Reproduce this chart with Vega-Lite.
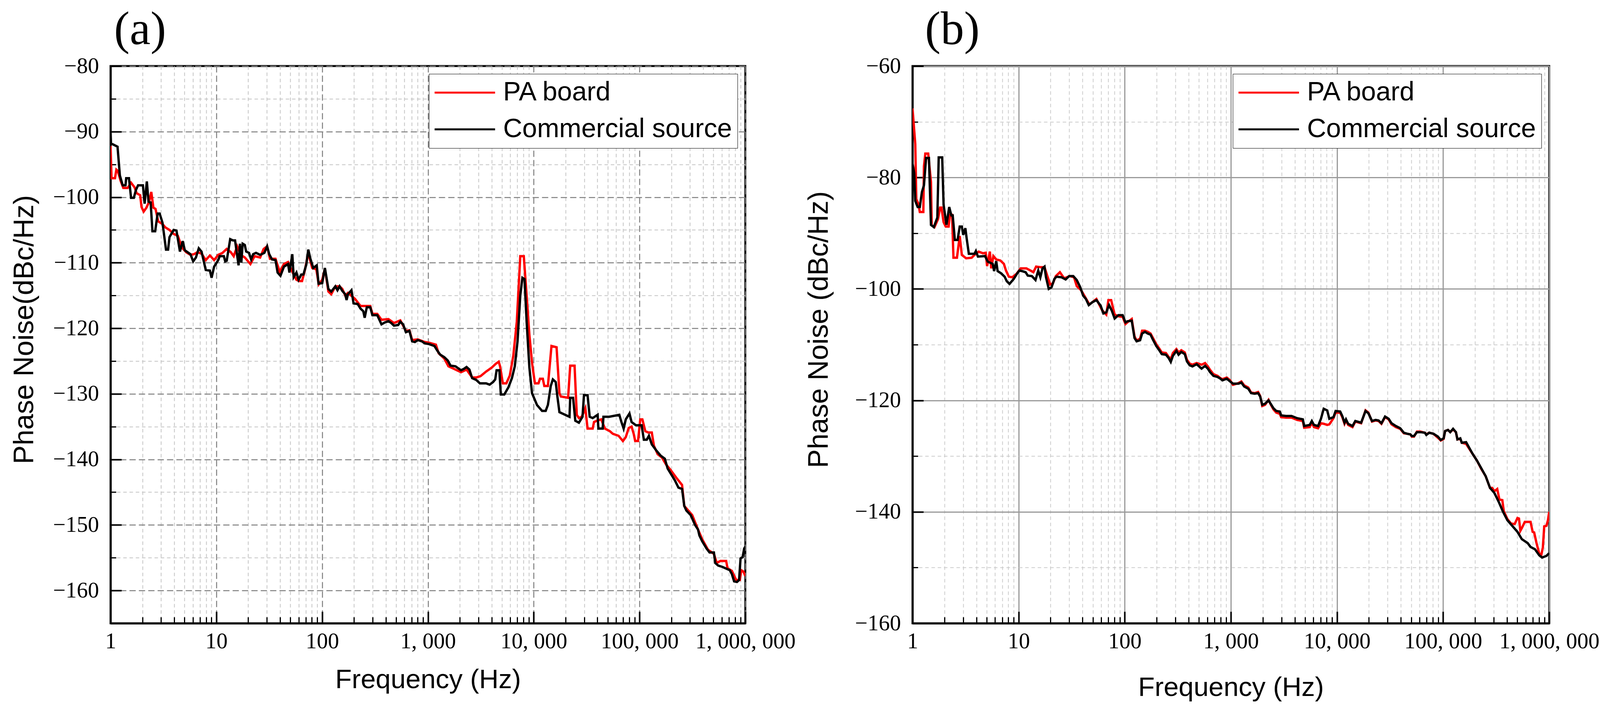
{
  "$schema": "https://vega.github.io/schema/vega-lite/v6.json",
  "background": "white",
  "padding": {"left": 23, "top": 14, "right": 6, "bottom": 6},
  "config": {
    "view": {"stroke": "black", "strokeWidth": 5},
    "axis": {"domainColor": "black", "domainWidth": 5, "tickColor": "black", "labelColor": "black", "titleColor": "black", "titleFontWeight": "normal", "titleFont": "Liberation Sans", "titleFontSize": 72, "labelFont": "Liberation Serif", "labelFontSize": 57, "labelLimit": 1000},
    "legend": {"orient": "top-right", "offset": 20, "strokeColor": "black", "fillColor": "white", "padding": 14, "labelFont": "Liberation Sans", "labelFontSize": 68, "labelColor": "black", "symbolType": "M-2.58,0H2.58", "symbolSize": 3600, "symbolStrokeWidth": 5, "labelOffset": 64, "symbolOffset": 44, "rowPadding": 26, "labelLimit": 2000, "title": null},
    "title": {"font": "Liberation Serif", "fontSize": 120, "fontWeight": "normal", "color": "black", "anchor": "start", "frame": "group"}
  },
  "datasets": {
    "a_pa": [
      {"f":1,"v":-92.2},{"f":1.021,"v":-97.1},{"f":1.102,"v":-97.1},{"f":1.135,"v":-95.8},{"f":1.172,"v":-96.0},{"f":1.245,"v":-97.5},{"f":1.321,"v":-98.6},{"f":1.449,"v":-98.6},{"f":1.563,"v":-97.8},{"f":1.687,"v":-98.5},{"f":1.766,"v":-99.4},{"f":1.905,"v":-99.7},{"f":1.963,"v":-101.5},{"f":2.056,"v":-102.2},{"f":2.183,"v":-101.6},{"f":2.317,"v":-100.7},{"f":2.427,"v":-99.2},{"f":2.541,"v":-101.6},{"f":2.661,"v":-101.8},{"f":2.825,"v":-103.7},{"f":3.097,"v":-104.1},{"f":3.289,"v":-104.6},{"f":3.606,"v":-105.0},{"f":3.945,"v":-105.6},{"f":4.325,"v":-105.9},{"f":4.732,"v":-107.7},{"f":5.188,"v":-108.4},{"f":5.689,"v":-108.8},{"f":6.138,"v":-108.7},{"f":6.607,"v":-108.4},{"f":7.244,"v":-108.6},{"f":7.943,"v":-109.6},{"f":8.69,"v":-108.9},{"f":9.528,"v":-109.6},{"f":10.42,"v":-108.8},{"f":11.43,"v":-108.5},{"f":12.53,"v":-107.9},{"f":13.71,"v":-108.4},{"f":14.59,"v":-109.0},{"f":15.74,"v":-107.5},{"f":16.98,"v":-108.8},{"f":18.58,"v":-109.2},{"f":20.99,"v":-110.2},{"f":22.96,"v":-109.0},{"f":25.94,"v":-109.2},{"f":27.99,"v":-107.9},{"f":30.2,"v":-107.5},{"f":32.14,"v":-109.4},{"f":36.22,"v":-109.4},{"f":39.72,"v":-111.4},{"f":43.55,"v":-110.2},{"f":47.64,"v":-109.9},{"f":52.24,"v":-111.4},{"f":57.15,"v":-112.6},{"f":60.81,"v":-112.8},{"f":64.57,"v":-112.8},{"f":68.55,"v":-111.2},{"f":73.96,"v":-108.5},{"f":80.54,"v":-110.8},{"f":88.1,"v":-111.0},{"f":92.9,"v":-113.3},{"f":100.2,"v":-112.6},{"f":106.2,"v":-110.9},{"f":114.6,"v":-114.4},{"f":121.9,"v":-114.8},{"f":133.4,"v":-113.6},{"f":146.2,"v":-113.6},{"f":155.2,"v":-114.0},{"f":165.2,"v":-115.0},{"f":175.4,"v":-114.6},{"f":204.2,"v":-115.5},{"f":230.7,"v":-116.6},{"f":285.1,"v":-116.6},{"f":298.5,"v":-117.8},{"f":331.9,"v":-117.8},{"f":363.9,"v":-118.7},{"f":423.6,"v":-118.6},{"f":477.5,"v":-119.2},{"f":548.3,"v":-118.8},{"f":619.4,"v":-120.4},{"f":668.3,"v":-120.3},{"f":709.6,"v":-121.8},{"f":801.7,"v":-121.7},{"f":933.3,"v":-122.1},{"f":1021,"v":-122.2},{"f":1189,"v":-122.5},{"f":1262,"v":-123.8},{"f":1426,"v":-124.6},{"f":1563,"v":-125.8},{"f":1714,"v":-126.1},{"f":1932,"v":-126.5},{"f":2056,"v":-126.7},{"f":2317,"v":-126.3},{"f":2618,"v":-127.5},{"f":2871,"v":-127.5},{"f":3141,"v":-127.3},{"f":3548,"v":-126.6},{"f":4009,"v":-126.0},{"f":4395,"v":-125.4},{"f":4667,"v":-125.1},{"f":4808,"v":-125.8},{"f":5105,"v":-128.4},{"f":5508,"v":-128.4},{"f":5943,"v":-127.2},{"f":6412,"v":-124.2},{"f":6918,"v":-119.0},{"f":7464,"v":-109.0},{"f":8054,"v":-109.0},{"f":8570,"v":-115.0},{"f":9099,"v":-121.0},{"f":9661,"v":-125.4},{"f":10260,"v":-128.4},{"f":11090,"v":-128.4},{"f":11460,"v":-127.7},{"f":12190,"v":-127.7},{"f":12590,"v":-128.8},{"f":13610,"v":-128.8},{"f":14720,"v":-122.7},{"f":16440,"v":-122.9},{"f":17500,"v":-129.9},{"f":18030,"v":-130.4},{"f":21130,"v":-130.6},{"f":22130,"v":-125.7},{"f":24320,"v":-125.7},{"f":25530,"v":-133.2},{"f":26730,"v":-133.7},{"f":28440,"v":-133.5},{"f":30760,"v":-132.2},{"f":32280,"v":-135.3},{"f":36060,"v":-135.3},{"f":37150,"v":-134.3},{"f":39630,"v":-134.1},{"f":43450,"v":-133.9},{"f":47100,"v":-135.3},{"f":52480,"v":-135.7},{"f":55980,"v":-136.1},{"f":63390,"v":-136.4},{"f":69660,"v":-137.2},{"f":74130,"v":-136.6},{"f":79070,"v":-135.2},{"f":84140,"v":-135.0},{"f":88100,"v":-136.1},{"f":91000,"v":-137.2},{"f":96830,"v":-137.2},{"f":101600,"v":-133.9},{"f":106400,"v":-133.9},{"f":113500,"v":-135.7},{"f":120800,"v":-135.9},{"f":130600,"v":-135.9},{"f":136800,"v":-137.9},{"f":148300,"v":-139.2},{"f":162600,"v":-139.7},{"f":178600,"v":-140.8},{"f":196300,"v":-141.6},{"f":222800,"v":-142.8},{"f":252400,"v":-143.9},{"f":264800,"v":-147.1},{"f":314800,"v":-148.5},{"f":357300,"v":-150.7},{"f":391700,"v":-152.2},{"f":444600,"v":-153.8},{"f":504700,"v":-154.4},{"f":537000,"v":-155.8},{"f":580800,"v":-155.5},{"f":659200,"v":-155.5},{"f":679200,"v":-156.6},{"f":746400,"v":-157.0},{"f":820400,"v":-158.4},{"f":887200,"v":-158.4},{"f":916200,"v":-156.9},{"f":959400,"v":-157.1},{"f":1000000,"v":-157.8}
    ],
    "a_cs": [
      {"f":1,"v":-90.0},{"f":1.01,"v":-91.8},{"f":1.164,"v":-92.3},{"f":1.225,"v":-96.7},{"f":1.303,"v":-98.2},{"f":1.384,"v":-98.2},{"f":1.406,"v":-97.1},{"f":1.493,"v":-97.1},{"f":1.563,"v":-100.1},{"f":1.66,"v":-100.1},{"f":1.738,"v":-98.9},{"f":1.82,"v":-98.2},{"f":2.023,"v":-98.2},{"f":2.099,"v":-101.0},{"f":2.203,"v":-97.6},{"f":2.286,"v":-100.7},{"f":2.393,"v":-100.8},{"f":2.489,"v":-105.2},{"f":2.642,"v":-105.2},{"f":2.786,"v":-102.5},{"f":2.911,"v":-102.5},{"f":3.097,"v":-103.9},{"f":3.342,"v":-108.0},{"f":3.499,"v":-108.0},{"f":3.606,"v":-106.1},{"f":3.945,"v":-105.0},{"f":4.198,"v":-105.1},{"f":4.529,"v":-108.3},{"f":4.808,"v":-106.7},{"f":5.035,"v":-108.1},{"f":5.689,"v":-108.7},{"f":6.039,"v":-109.8},{"f":6.412,"v":-109.2},{"f":6.823,"v":-107.8},{"f":7.244,"v":-108.3},{"f":7.943,"v":-111.1},{"f":8.69,"v":-111.2},{"f":9.016,"v":-112.3},{"f":9.528,"v":-110.6},{"f":10.42,"v":-109.6},{"f":10.76,"v":-109.0},{"f":11.78,"v":-109.0},{"f":12.13,"v":-109.8},{"f":12.53,"v":-109.7},{"f":13.52,"v":-106.4},{"f":14.35,"v":-106.6},{"f":15.03,"v":-106.6},{"f":16.22,"v":-110.4},{"f":16.71,"v":-107.1},{"f":17.22,"v":-110.0},{"f":17.74,"v":-107.1},{"f":18.58,"v":-107.3},{"f":19.14,"v":-108.3},{"f":20.37,"v":-108.5},{"f":21.33,"v":-109.5},{"f":22.28,"v":-108.7},{"f":23.71,"v":-108.5},{"f":25.94,"v":-108.8},{"f":28.44,"v":-108.5},{"f":30.2,"v":-107.5},{"f":31.62,"v":-108.7},{"f":33.57,"v":-109.5},{"f":36.22,"v":-109.6},{"f":37.93,"v":-111.5},{"f":40.36,"v":-112.0},{"f":43.55,"v":-110.6},{"f":47.64,"v":-110.2},{"f":49.09,"v":-111.5},{"f":52.24,"v":-108.7},{"f":53.83,"v":-112.2},{"f":57.15,"v":-111.5},{"f":59.84,"v":-112.6},{"f":63.53,"v":-111.8},{"f":66.53,"v":-111.8},{"f":70.79,"v":-110.3},{"f":73.96,"v":-108.0},{"f":77.45,"v":-109.4},{"f":82.41,"v":-110.8},{"f":88.92,"v":-110.4},{"f":92.47,"v":-113.2},{"f":100.2,"v":-113.1},{"f":106.2,"v":-110.8},{"f":114.6,"v":-114.0},{"f":121.9,"v":-114.4},{"f":133.4,"v":-113.6},{"f":139.6,"v":-114.2},{"f":146.2,"v":-113.6},{"f":155.2,"v":-114.3},{"f":165.2,"v":-114.8},{"f":170.2,"v":-115.7},{"f":175.4,"v":-114.8},{"f":189.2,"v":-114.2},{"f":198.2,"v":-116.2},{"f":216.8,"v":-116.3},{"f":230.7,"v":-117.0},{"f":244.9,"v":-117.4},{"f":252.4,"v":-118.4},{"f":264.2,"v":-116.8},{"f":285.1,"v":-116.8},{"f":298.5,"v":-118.0},{"f":331.9,"v":-118.0},{"f":363.9,"v":-119.4},{"f":392.6,"v":-119.1},{"f":423.6,"v":-118.9},{"f":449.8,"v":-119.2},{"f":477.5,"v":-119.6},{"f":523.6,"v":-119.5},{"f":548.3,"v":-119.0},{"f":582.1,"v":-119.4},{"f":619.4,"v":-120.6},{"f":668.3,"v":-120.4},{"f":709.6,"v":-122.0},{"f":753.4,"v":-122.1},{"f":801.7,"v":-121.8},{"f":879,"v":-122.0},{"f":933.3,"v":-122.3},{"f":1021,"v":-122.4},{"f":1153,"v":-122.7},{"f":1225,"v":-123.4},{"f":1303,"v":-124.0},{"f":1426,"v":-124.4},{"f":1538,"v":-124.9},{"f":1637,"v":-125.7},{"f":1820,"v":-125.8},{"f":1932,"v":-126.1},{"f":2056,"v":-126.4},{"f":2183,"v":-126.2},{"f":2317,"v":-125.9},{"f":2466,"v":-126.3},{"f":2618,"v":-127.6},{"f":2871,"v":-127.9},{"f":3097,"v":-128.4},{"f":3548,"v":-128.4},{"f":3828,"v":-128.6},{"f":4130,"v":-128.2},{"f":4325,"v":-127.8},{"f":4457,"v":-126.4},{"f":4732,"v":-126.4},{"f":4887,"v":-130.1},{"f":5272,"v":-130.1},{"f":5768,"v":-129.0},{"f":6223,"v":-127.6},{"f":6622,"v":-125.8},{"f":7031,"v":-122.0},{"f":7464,"v":-115.0},{"f":7816,"v":-112.3},{"f":8185,"v":-112.5},{"f":8570,"v":-119.0},{"f":9099,"v":-126.0},{"f":9638,"v":-129.9},{"f":10740,"v":-131.7},{"f":11990,"v":-132.6},{"f":12970,"v":-132.6},{"f":13610,"v":-131.7},{"f":14490,"v":-128.8},{"f":15170,"v":-127.8},{"f":16140,"v":-128.2},{"f":16670,"v":-130.2},{"f":17500,"v":-132.8},{"f":20460,"v":-133.3},{"f":21780,"v":-133.5},{"f":22130,"v":-130.6},{"f":23550,"v":-130.6},{"f":24720,"v":-134.1},{"f":26730,"v":-134.4},{"f":28910,"v":-133.5},{"f":29850,"v":-130.2},{"f":32280,"v":-130.2},{"f":33810,"v":-133.5},{"f":36060,"v":-133.7},{"f":40180,"v":-133.2},{"f":40830,"v":-135.3},{"f":44870,"v":-135.3},{"f":45600,"v":-133.5},{"f":51760,"v":-133.5},{"f":64420,"v":-133.2},{"f":67450,"v":-134.3},{"f":70790,"v":-135.3},{"f":74130,"v":-133.9},{"f":80350,"v":-133.0},{"f":84140,"v":-134.3},{"f":92470,"v":-134.8},{"f":104700,"v":-134.8},{"f":109900,"v":-137.0},{"f":117000,"v":-137.0},{"f":122700,"v":-136.4},{"f":130600,"v":-137.7},{"f":143500,"v":-138.6},{"f":157800,"v":-139.4},{"f":173400,"v":-139.9},{"f":184500,"v":-141.4},{"f":196300,"v":-142.1},{"f":215800,"v":-143.2},{"f":233300,"v":-144.3},{"f":252400,"v":-144.5},{"f":264800,"v":-147.1},{"f":277300,"v":-147.8},{"f":304800,"v":-148.5},{"f":335000,"v":-150.0},{"f":357300,"v":-150.7},{"f":368100,"v":-151.6},{"f":391700,"v":-152.5},{"f":430500,"v":-153.6},{"f":459200,"v":-154.2},{"f":504700,"v":-154.2},{"f":520000,"v":-155.8},{"f":554600,"v":-156.2},{"f":608100,"v":-156.4},{"f":668300,"v":-156.7},{"f":712900,"v":-156.9},{"f":746400,"v":-157.5},{"f":783400,"v":-158.6},{"f":833700,"v":-158.7},{"f":873000,"v":-158.4},{"f":901600,"v":-155.1},{"f":944100,"v":-154.9},{"f":975000,"v":-153.6},{"f":1000000,"v":-153.3}
    ],
    "b_pa": [
      {"f":1,"v":-67.6},{"f":1.062,"v":-74.0},{"f":1.086,"v":-83.9},{"f":1.135,"v":-84.7},{"f":1.172,"v":-86.2},{"f":1.265,"v":-86.2},{"f":1.282,"v":-78.0},{"f":1.321,"v":-75.7},{"f":1.406,"v":-75.7},{"f":1.493,"v":-80.8},{"f":1.517,"v":-88.6},{"f":1.611,"v":-88.9},{"f":1.738,"v":-87.5},{"f":1.82,"v":-85.4},{"f":1.875,"v":-85.4},{"f":1.963,"v":-88.0},{"f":2.056,"v":-88.8},{"f":2.188,"v":-88.8},{"f":2.254,"v":-86.7},{"f":2.36,"v":-86.7},{"f":2.432,"v":-94.4},{"f":2.624,"v":-94.4},{"f":2.786,"v":-90.5},{"f":2.917,"v":-93.9},{"f":3.199,"v":-94.5},{"f":3.606,"v":-94.4},{"f":3.837,"v":-93.9},{"f":4.207,"v":-93.3},{"f":4.603,"v":-93.6},{"f":4.898,"v":-93.5},{"f":5.047,"v":-95.9},{"f":5.358,"v":-93.3},{"f":5.521,"v":-96.3},{"f":5.781,"v":-94.1},{"f":6.152,"v":-94.7},{"f":6.73,"v":-94.9},{"f":7.261,"v":-95.5},{"f":7.603,"v":-96.7},{"f":8.091,"v":-97.8},{"f":8.73,"v":-97.9},{"f":9.55,"v":-97.3},{"f":10.47,"v":-96.3},{"f":11.83,"v":-96.3},{"f":12.94,"v":-96.7},{"f":13.77,"v":-97.0},{"f":14.62,"v":-96.0},{"f":16.03,"v":-96.1},{"f":17.54,"v":-96.1},{"f":18.66,"v":-97.7},{"f":19.82,"v":-99.2},{"f":21.04,"v":-99.0},{"f":22.39,"v":-97.7},{"f":24.49,"v":-97.0},{"f":26.85,"v":-98.1},{"f":30.34,"v":-97.7},{"f":33.27,"v":-97.9},{"f":35.32,"v":-99.5},{"f":38.73,"v":-100.2},{"f":42.46,"v":-101.5},{"f":46.45,"v":-102.8},{"f":54.08,"v":-101.8},{"f":61.09,"v":-103.8},{"f":66.99,"v":-104.6},{"f":70.15,"v":-102.0},{"f":74.47,"v":-102.0},{"f":80.35,"v":-104.6},{"f":87.1,"v":-104.9},{"f":95.5,"v":-105.0},{"f":101.6,"v":-106.3},{"f":107.2,"v":-105.9},{"f":116.4,"v":-105.4},{"f":123.6,"v":-108.5},{"f":129.4,"v":-109.3},{"f":139.6,"v":-108.9},{"f":145.9,"v":-107.5},{"f":155.2,"v":-107.5},{"f":164.8,"v":-107.7},{"f":175,"v":-108.0},{"f":183.2,"v":-108.7},{"f":197.7,"v":-109.9},{"f":209.9,"v":-110.6},{"f":223.4,"v":-111.4},{"f":244.3,"v":-111.5},{"f":259.4,"v":-112.2},{"f":271.6,"v":-112.6},{"f":284.4,"v":-111.5},{"f":306.9,"v":-110.8},{"f":321.4,"v":-111.4},{"f":341.2,"v":-111.0},{"f":368.1,"v":-111.4},{"f":385.5,"v":-112.7},{"f":409.3,"v":-113.4},{"f":434.5,"v":-113.6},{"f":476.4,"v":-113.3},{"f":529.7,"v":-113.6},{"f":571.5,"v":-113.3},{"f":606.7,"v":-113.9},{"f":635.3,"v":-114.5},{"f":685.5,"v":-115.3},{"f":749.9,"v":-115.6},{"f":796.2,"v":-116.0},{"f":833.7,"v":-116.2},{"f":914.1,"v":-115.9},{"f":984,"v":-116.4},{"f":1047,"v":-117.2},{"f":1180,"v":-116.9},{"f":1256,"v":-116.6},{"f":1334,"v":-117.3},{"f":1459,"v":-117.7},{"f":1552,"v":-118.6},{"f":1675,"v":-118.7},{"f":1807,"v":-118.5},{"f":1888,"v":-119.2},{"f":1977,"v":-121.0},{"f":2099,"v":-120.8},{"f":2265,"v":-119.9},{"f":2371,"v":-120.7},{"f":2518,"v":-121.6},{"f":2679,"v":-122.2},{"f":2891,"v":-122.4},{"f":2979,"v":-123.0},{"f":3311,"v":-123.1},{"f":3733,"v":-123.1},{"f":4217,"v":-123.5},{"f":4764,"v":-123.7},{"f":4909,"v":-124.9},{"f":5534,"v":-124.8},{"f":5794,"v":-124.0},{"f":6067,"v":-124.8},{"f":6637,"v":-125.0},{"f":7063,"v":-124.1},{"f":7499,"v":-124.2},{"f":8091,"v":-124.4},{"f":8472,"v":-124.3},{"f":9268,"v":-123.2},{"f":9705,"v":-122.2},{"f":10720,"v":-122.2},{"f":11220,"v":-123.0},{"f":11780,"v":-124.2},{"f":12160,"v":-123.6},{"f":12740,"v":-124.4},{"f":14000,"v":-124.8},{"f":14890,"v":-123.8},{"f":16900,"v":-124.1},{"f":18580,"v":-121.8},{"f":19770,"v":-122.2},{"f":21380,"v":-123.8},{"f":23120,"v":-123.6},{"f":24660,"v":-123.7},{"f":26240,"v":-124.2},{"f":28380,"v":-123.0},{"f":30690,"v":-123.4},{"f":32660,"v":-124.3},{"f":35890,"v":-124.8},{"f":39450,"v":-125.1},{"f":42660,"v":-125.9},{"f":46130,"v":-126.0},{"f":49200,"v":-126.1},{"f":50700,"v":-126.5},{"f":53210,"v":-126.5},{"f":56620,"v":-125.6},{"f":61240,"v":-125.6},{"f":67300,"v":-125.8},{"f":69500,"v":-126.1},{"f":73960,"v":-125.8},{"f":81280,"v":-126.0},{"f":89330,"v":-126.7},{"f":95060,"v":-127.2},{"f":101200,"v":-126.9},{"f":104500,"v":-125.5},{"f":111200,"v":-125.3},{"f":116700,"v":-125.7},{"f":124200,"v":-125.2},{"f":132100,"v":-125.7},{"f":136500,"v":-127.0},{"f":145200,"v":-126.9},{"f":150000,"v":-127.6},{"f":164800,"v":-127.8},{"f":172600,"v":-128.4},{"f":189700,"v":-129.6},{"f":208400,"v":-130.8},{"f":229100,"v":-132.3},{"f":251800,"v":-133.6},{"f":276700,"v":-135.7},{"f":289700,"v":-135.7},{"f":304100,"v":-136.3},{"f":323600,"v":-135.9},{"f":339600,"v":-137.8},{"f":361400,"v":-137.9},{"f":373300,"v":-139.9},{"f":403600,"v":-141.3},{"f":436500,"v":-142.1},{"f":472100,"v":-142.2},{"f":502300,"v":-141.1},{"f":518800,"v":-141.2},{"f":534600,"v":-143.4},{"f":555900,"v":-142.8},{"f":588800,"v":-141.8},{"f":666800,"v":-141.8},{"f":698200,"v":-143.6},{"f":721100,"v":-143.7},{"f":756800,"v":-145.5},{"f":805400,"v":-147.5},{"f":843300,"v":-147.7},{"f":871000,"v":-146.4},{"f":897500,"v":-142.6},{"f":941900,"v":-142.5},{"f":972800,"v":-141.5},{"f":1000000,"v":-140.0}
    ],
    "b_cs": [
      {"f":1,"v":-77.5},{"f":1.038,"v":-79.2},{"f":1.062,"v":-84.2},{"f":1.119,"v":-85.3},{"f":1.172,"v":-85.3},{"f":1.227,"v":-82.6},{"f":1.282,"v":-81.4},{"f":1.343,"v":-76.5},{"f":1.429,"v":-76.5},{"f":1.493,"v":-88.5},{"f":1.589,"v":-88.9},{"f":1.714,"v":-87.2},{"f":1.766,"v":-76.4},{"f":1.905,"v":-76.4},{"f":1.963,"v":-84.9},{"f":2.089,"v":-88.5},{"f":2.218,"v":-85.3},{"f":2.323,"v":-86.8},{"f":2.393,"v":-86.8},{"f":2.506,"v":-91.2},{"f":2.661,"v":-91.2},{"f":2.786,"v":-88.8},{"f":2.917,"v":-88.8},{"f":3.006,"v":-90.3},{"f":3.148,"v":-89.1},{"f":3.243,"v":-91.0},{"f":3.396,"v":-93.7},{"f":3.837,"v":-93.7},{"f":3.954,"v":-93.2},{"f":4.14,"v":-94.2},{"f":4.819,"v":-94.1},{"f":5.117,"v":-95.1},{"f":5.702,"v":-95.5},{"f":5.875,"v":-96.8},{"f":6.152,"v":-95.0},{"f":6.339,"v":-96.8},{"f":6.839,"v":-97.2},{"f":7.379,"v":-97.8},{"f":7.727,"v":-98.6},{"f":8.204,"v":-99.1},{"f":8.995,"v":-98.2},{"f":9.705,"v":-97.2},{"f":10.16,"v":-96.7},{"f":10.79,"v":-96.8},{"f":11.64,"v":-97.0},{"f":12.19,"v":-97.6},{"f":13.34,"v":-97.7},{"f":14.42,"v":-98.4},{"f":15.31,"v":-96.7},{"f":16.03,"v":-97.9},{"f":16.79,"v":-96.3},{"f":17.54,"v":-96.0},{"f":18.11,"v":-97.9},{"f":19.23,"v":-100.0},{"f":20.42,"v":-99.7},{"f":21.73,"v":-98.2},{"f":22.75,"v":-97.8},{"f":25.29,"v":-97.9},{"f":27.73,"v":-98.3},{"f":29.92,"v":-97.7},{"f":32.73,"v":-97.7},{"f":35.32,"v":-98.4},{"f":38.11,"v":-99.7},{"f":40.55,"v":-101.2},{"f":43.05,"v":-101.8},{"f":45.81,"v":-102.9},{"f":49.43,"v":-102.4},{"f":54.08,"v":-102.0},{"f":59.29,"v":-103.0},{"f":62.95,"v":-104.4},{"f":66.99,"v":-104.2},{"f":71.12,"v":-102.9},{"f":75.51,"v":-103.9},{"f":80.35,"v":-105.3},{"f":87.1,"v":-104.7},{"f":95.5,"v":-104.7},{"f":101.6,"v":-106.0},{"f":106.2,"v":-105.8},{"f":116.4,"v":-105.7},{"f":123.6,"v":-108.8},{"f":129.4,"v":-109.4},{"f":139.6,"v":-109.2},{"f":145.9,"v":-108.0},{"f":155.2,"v":-107.7},{"f":164.8,"v":-108.0},{"f":175,"v":-108.2},{"f":183.2,"v":-109.0},{"f":197.7,"v":-110.2},{"f":209.9,"v":-110.9},{"f":223.4,"v":-111.7},{"f":244.3,"v":-111.8},{"f":259.4,"v":-112.4},{"f":271.6,"v":-113.1},{"f":284.4,"v":-112.0},{"f":306.9,"v":-111.1},{"f":321.4,"v":-111.8},{"f":341.2,"v":-111.3},{"f":368.1,"v":-111.7},{"f":385.5,"v":-113.0},{"f":409.3,"v":-113.7},{"f":434.5,"v":-113.9},{"f":476.4,"v":-113.5},{"f":529.7,"v":-114.3},{"f":571.5,"v":-113.8},{"f":606.7,"v":-114.3},{"f":635.3,"v":-114.9},{"f":685.5,"v":-115.6},{"f":749.9,"v":-115.8},{"f":796.2,"v":-116.1},{"f":833.7,"v":-116.4},{"f":914.1,"v":-116.1},{"f":984,"v":-116.6},{"f":1047,"v":-117.0},{"f":1180,"v":-117.0},{"f":1256,"v":-116.8},{"f":1334,"v":-117.5},{"f":1459,"v":-117.9},{"f":1552,"v":-118.7},{"f":1675,"v":-118.8},{"f":1807,"v":-118.7},{"f":1888,"v":-119.3},{"f":1977,"v":-120.8},{"f":2099,"v":-120.6},{"f":2265,"v":-120.0},{"f":2371,"v":-120.6},{"f":2518,"v":-121.4},{"f":2679,"v":-121.9},{"f":2891,"v":-122.0},{"f":2979,"v":-122.7},{"f":3311,"v":-122.8},{"f":3733,"v":-122.8},{"f":4217,"v":-123.2},{"f":4764,"v":-123.4},{"f":4909,"v":-124.6},{"f":5534,"v":-124.4},{"f":5794,"v":-123.7},{"f":6067,"v":-124.4},{"f":6637,"v":-124.6},{"f":7063,"v":-123.3},{"f":7499,"v":-121.5},{"f":8091,"v":-121.8},{"f":8472,"v":-123.3},{"f":9268,"v":-123.0},{"f":9705,"v":-121.9},{"f":10720,"v":-122.0},{"f":11220,"v":-122.8},{"f":11780,"v":-124.0},{"f":12160,"v":-123.4},{"f":12740,"v":-124.2},{"f":14000,"v":-124.6},{"f":14890,"v":-123.7},{"f":16900,"v":-124.0},{"f":18580,"v":-121.9},{"f":19770,"v":-122.3},{"f":21380,"v":-123.7},{"f":23120,"v":-123.5},{"f":24660,"v":-123.6},{"f":26240,"v":-124.1},{"f":28380,"v":-122.9},{"f":30690,"v":-123.3},{"f":32660,"v":-124.1},{"f":35890,"v":-124.6},{"f":39450,"v":-125.0},{"f":42660,"v":-125.8},{"f":46130,"v":-126.0},{"f":49200,"v":-126.1},{"f":50700,"v":-126.4},{"f":53210,"v":-126.4},{"f":56620,"v":-125.7},{"f":61240,"v":-125.7},{"f":67300,"v":-125.8},{"f":69500,"v":-126.2},{"f":73960,"v":-125.8},{"f":81280,"v":-126.0},{"f":89330,"v":-126.5},{"f":95060,"v":-127.1},{"f":101200,"v":-126.8},{"f":104500,"v":-125.5},{"f":111200,"v":-125.3},{"f":116700,"v":-125.7},{"f":124200,"v":-125.1},{"f":132100,"v":-125.7},{"f":136500,"v":-127.0},{"f":145200,"v":-126.8},{"f":150000,"v":-127.6},{"f":164800,"v":-127.5},{"f":172600,"v":-128.2},{"f":189700,"v":-129.6},{"f":208400,"v":-130.8},{"f":229100,"v":-132.2},{"f":251800,"v":-133.6},{"f":276700,"v":-135.7},{"f":304100,"v":-136.6},{"f":334200,"v":-138.2},{"f":367300,"v":-140.0},{"f":403600,"v":-141.5},{"f":457100,"v":-142.7},{"f":502300,"v":-143.6},{"f":552100,"v":-144.9},{"f":626600,"v":-145.6},{"f":666800,"v":-146.3},{"f":732800,"v":-146.7},{"f":805400,"v":-147.8},{"f":857000,"v":-148.2},{"f":941900,"v":-147.9},{"f":1000000,"v":-147.4}
    ]
  },
  "hconcat": [
    {
      "width": 1625,
      "height": 1426,
      "title": {"text": "(a)", "dx": 9, "offset": 2},
      "resolve": {"axis": {"x": "independent", "y": "independent"}},
      "layer": [
        {
          "data": {"name": "a_pa"},
          "mark": {"type": "line", "strokeWidth": 6, "clip": true},
          "encoding": {
            "x": {"field": "f", "type": "quantitative", "scale": {"type": "log", "domain": [1, 1000000], "nice": false},
              "axis": {"orient": "bottom", "values": [1, 10, 100, 1000, 10000, 100000, 1000000], "labelExpr": "replace(format(datum.value, ','), regexp(',', 'g'), ', ')", "labelFlush": false, "labelOverlap": false, "labelPadding": 48, "tickSize": -30, "tickWidth": 4, "grid": true, "gridColor": "#7f7f7f", "gridDash": [16, 8], "gridWidth": 2.5, "title": "Frequency (Hz)", "titleFontSize": 69, "titlePadding": 36}},
            "y": {"field": "v", "type": "quantitative", "scale": {"domain": [-165, -80], "nice": false, "zero": false},
              "axis": {"orient": "left", "values": [-160, -150, -140, -130, -120, -110, -100, -90, -80], "format": "d", "labelPadding": 58, "tickSize": -28, "tickWidth": 4, "grid": true, "gridColor": "#7f7f7f", "gridDash": [16, 8], "gridWidth": 2.5, "title": "Phase Noise(dBc/Hz)", "titlePadding": 36, "titleY": 674}},
            "color": {"datum": "PA board", "type": "nominal", "scale": {"domain": ["PA board", "Commercial source"], "range": ["#ff0000", "#000000"]},
              "legend": {"labelExpr": "datum.label == 'PA board' ? '\u00a0PA board' : datum.label"}}
          }
        },
        {
          "data": {"name": "a_cs"},
          "mark": {"type": "line", "strokeWidth": 6, "clip": true},
          "encoding": {
            "x": {"field": "f", "type": "quantitative", "scale": {"type": "log", "domain": [1, 1000000], "nice": false},
              "axis": {"orient": "bottom", "values": [2,3,4,5,6,7,8,9,20,30,40,50,60,70,80,90,200,300,400,500,600,700,800,900,2000,3000,4000,5000,6000,7000,8000,9000,20000,30000,40000,50000,60000,70000,80000,90000,200000,300000,400000,500000,600000,700000,800000,900000], "labels": false, "domain": false, "tickSize": -16, "tickWidth": 3, "grid": true, "gridColor": "#c4c4c4", "gridDash": [9, 7], "gridWidth": 2, "title": null}},
            "y": {"field": "v", "type": "quantitative", "scale": {"domain": [-165, -80], "nice": false, "zero": false},
              "axis": {"orient": "left", "values": [-155, -145, -135, -125, -115, -105, -95, -85], "labels": false, "domain": false, "tickSize": -14, "tickWidth": 3, "grid": true, "gridColor": "#c4c4c4", "gridDash": [9, 7], "gridWidth": 2, "title": null}},
            "color": {"datum": "Commercial source", "type": "nominal", "scale": {"domain": ["PA board", "Commercial source"], "range": ["#ff0000", "#000000"]},
              "legend": {"labelExpr": "datum.label == 'PA board' ? '\u00a0PA board' : datum.label"}}
          }
        }
      ]
    },
    {
      "width": 1630,
      "height": 1426,
      "title": {"text": "(b)", "dx": 32, "offset": 2},
      "resolve": {"axis": {"x": "independent", "y": "independent"}},
      "layer": [
        {
          "data": {"name": "b_pa"},
          "mark": {"type": "line", "strokeWidth": 6, "clip": true},
          "encoding": {
            "x": {"field": "f", "type": "quantitative", "scale": {"type": "log", "domain": [1, 1000000], "nice": false},
              "axis": {"orient": "bottom", "values": [1, 10, 100, 1000, 10000, 100000, 1000000], "labelExpr": "replace(format(datum.value, ','), regexp(',', 'g'), ', ')", "labelFlush": false, "labelOverlap": false, "labelPadding": 48, "tickSize": -30, "tickWidth": 4, "grid": true, "gridColor": "#9a9a9a", "gridWidth": 3, "title": "Frequency (Hz)", "titleFontSize": 69, "titlePadding": 56}},
            "y": {"field": "v", "type": "quantitative", "scale": {"domain": [-160, -60], "nice": false, "zero": false},
              "axis": {"orient": "left", "values": [-160, -140, -120, -100, -80, -60], "format": "d", "labelPadding": 58, "tickSize": -28, "tickWidth": 4, "grid": true, "gridColor": "#9a9a9a", "gridWidth": 3, "title": "Phase Noise (dBc/Hz)", "titlePadding": 55, "titleY": 674}},
            "color": {"datum": "PA board", "type": "nominal", "scale": {"domain": ["PA board", "Commercial source"], "range": ["#ff0000", "#000000"]},
              "legend": {"labelExpr": "datum.label == 'PA board' ? '\u00a0PA board' : datum.label"}}
          }
        },
        {
          "data": {"name": "b_cs"},
          "mark": {"type": "line", "strokeWidth": 6, "clip": true},
          "encoding": {
            "x": {"field": "f", "type": "quantitative", "scale": {"type": "log", "domain": [1, 1000000], "nice": false},
              "axis": {"orient": "bottom", "values": [2,3,4,5,6,7,8,9,20,30,40,50,60,70,80,90,200,300,400,500,600,700,800,900,2000,3000,4000,5000,6000,7000,8000,9000,20000,30000,40000,50000,60000,70000,80000,90000,200000,300000,400000,500000,600000,700000,800000,900000], "labels": false, "domain": false, "tickSize": -16, "tickWidth": 3, "grid": true, "gridColor": "#cccccc", "gridDash": [9, 7], "gridWidth": 2, "title": null}},
            "y": {"field": "v", "type": "quantitative", "scale": {"domain": [-160, -60], "nice": false, "zero": false},
              "axis": {"orient": "left", "values": [-150, -130, -110, -90, -70], "labels": false, "domain": false, "tickSize": -14, "tickWidth": 3, "grid": true, "gridColor": "#cccccc", "gridDash": [9, 7], "gridWidth": 2, "title": null}},
            "color": {"datum": "Commercial source", "type": "nominal", "scale": {"domain": ["PA board", "Commercial source"], "range": ["#ff0000", "#000000"]},
              "legend": {"labelExpr": "datum.label == 'PA board' ? '\u00a0PA board' : datum.label"}}
          }
        }
      ]
    }
  ],
  "spacing": 18,
  "resolve": {"scale": {"color": "independent"}, "legend": {"color": "independent"}}
}
